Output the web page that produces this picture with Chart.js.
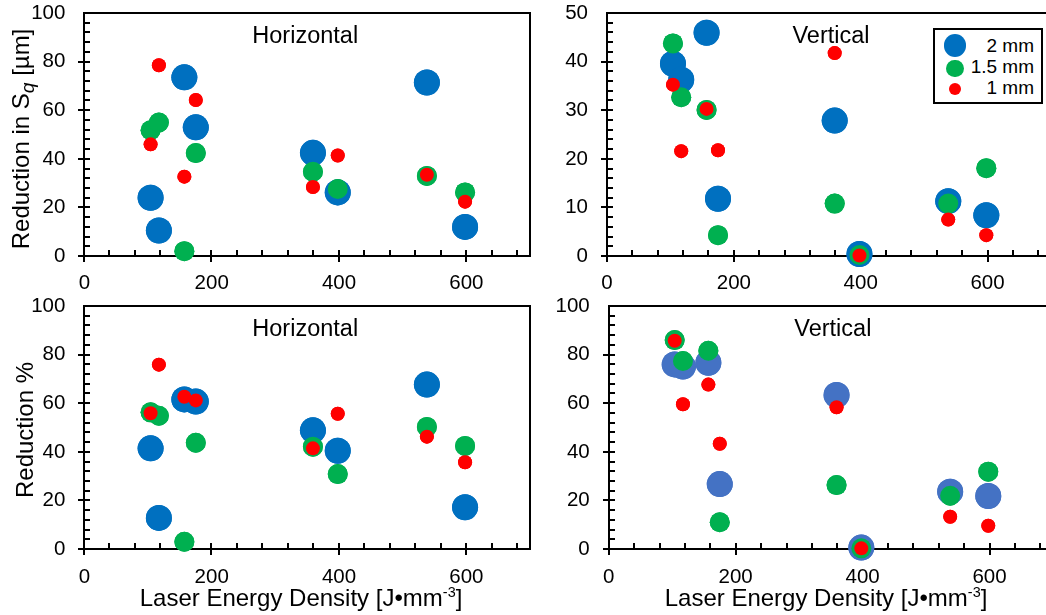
<!DOCTYPE html>
<html>
<head>
<meta charset="utf-8">
<script src="https://cdn.jsdelivr.net/npm/chart.js@4.4.0/dist/chart.umd.min.js"></script>
<style>
  html, body { margin: 0; padding: 0; overflow: hidden; background: #fff; }
  body { width: 1046px; height: 615px; position: relative; font-family: 'Liberation Sans', Arial, sans-serif; color: #000; }
  canvas { position: absolute; }
  .ytitle { position: absolute; white-space: nowrap; font-size: 24px; line-height: 24px; transform: translate(-50%, -50%) rotate(-90deg); }
  .xtitle { position: absolute; white-space: nowrap; font-size: 24px; line-height: 24px; transform: translateX(-50%); }
  sub { font-style: italic; font-size: 0.8em; vertical-align: -0.28em; line-height: 0; }
  sup { font-size: 0.6em; vertical-align: 0.6em; line-height: 0; }
  #legend { position: absolute; left: 933px; top: 28px; width: 106px; height: 72px; border: 2px solid #000; background: #fff; }
  #legend .row { position: absolute; left: 0; right: 7px; height: 21px; line-height: 21px; font-size: 19px; text-align: right; }
  #legend .dot { position: absolute; border-radius: 50%; }
</style>
</head>
<body>
<canvas id="tl" width="545" height="305" style="left:0;top:0"></canvas>
<canvas id="tr" width="560" height="305" style="left:520px;top:0"></canvas>
<canvas id="bl" width="545" height="335" style="left:0;top:280px"></canvas>
<canvas id="br" width="560" height="335" style="left:520px;top:280px"></canvas>

<div class="ytitle" style="left:20.5px;top:139px">Reduction in S<sub>q</sub> [µm]</div>
<div class="ytitle" style="left:25px;top:430px">Reduction %</div>
<div class="xtitle" style="left:301px;top:586px">Laser Energy Density [J•mm<sup>-3</sup>]</div>
<div class="xtitle" style="left:826px;top:586px">Laser Energy Density [J•mm<sup>-3</sup>]</div>
<div id="legend"></div>

<script>
// laser energy density of the 8 builds (J/mm3)
const energy = [104, 117, 157, 175, 359, 398, 538, 598];

// reduction in Sq (um), horizontal
const sqHoriz2mm = [24.0, 10.5, 73.6, 53.0, 42.5, 26.2, 71.5, 12.0];
const sqHoriz15mm = [51.8, 55.0, 2.0, 42.4, 34.7, 27.6, 33.0, 26.2];
const sqHoriz1mm = [46.0, 78.6, 32.7, 64.3, 28.4, 41.4, 33.5, 22.4];

// reduction in Sq (um), vertical
const sqVert2mm = [39.6, 36.3, 46.0, 11.8, 27.9, 0.4, 11.3, 8.4];
const sqVert15mm = [43.8, 32.7, 30.1, 4.3, 10.8, 0.2, 10.8, 18.1];
const sqVert1mm = [35.3, 21.6, 30.3, 21.8, 41.8, 0.1, 7.5, 4.3];

// reduction %, horizontal
const pctHoriz2mm = [41.5, 12.9, 61.6, 60.7, 48.9, 40.5, 67.7, 17.3];
const pctHoriz15mm = [56.3, 54.9, 3.1, 43.8, 42.2, 30.9, 50.3, 42.5];
const pctHoriz1mm = [55.9, 75.9, 62.7, 61.2, 41.5, 55.7, 46.3, 35.8];

// reduction %, vertical
const pctVert2mm = [76.0, 75.1, 76.7, 26.8, 63.4, 0.7, 23.7, 21.9];
const pctVert15mm = [86.0, 77.4, 81.6, 11.1, 26.4, 0.4, 22.0, 31.9];
const pctVert1mm = [85.7, 59.6, 67.7, 43.4, 58.4, 0.4, 13.4, 9.7];

const xTicks = [0, 200, 400, 600];
const seriesLabels = ['2 mm', '1.5 mm', '1 mm'];

const BLUE = '#0070C0';
const BLUE2 = '#4472C4';
const GREEN = '#00B050';
const RED = '#FF0000';

Chart.defaults.font.family = "'Liberation Sans', Arial, sans-serif";
Chart.defaults.color = '#000';

function points(ys) {
  return energy.map((x, i) => ({ x: x, y: ys[i] }));
}

function makeDatasets(blue, ys2, ys15, ys1) {
  const common = { pointBorderWidth: 0, pointHoverBorderWidth: 0, clip: false };
  return [
    { ...common, label: seriesLabels[0], data: points(ys2), backgroundColor: blue, pointRadius: 13, pointHoverRadius: 13, order: 3 },
    { ...common, label: seriesLabels[1], data: points(ys15), backgroundColor: GREEN, pointRadius: 10, pointHoverRadius: 10, order: 2 },
    { ...common, label: seriesLabels[2], data: points(ys1), backgroundColor: RED, pointRadius: 7, pointHoverRadius: 7, order: 1 }
  ];
}

function makeChart(id, p) {
  const canvas = document.getElementById(id);
  const W = canvas.width, H = canvas.height;
  const yMinor = p.yStep / 5;

  // box round the plot, major ticks across the axes, minor ticks inside
  const frameTicks = {
    id: 'frameTicks',
    afterDraw(chart) {
      const ctx = chart.ctx;
      const a = chart.chartArea;
      const L = Math.round(a.left), T = Math.round(a.top);
      const R = Math.round(a.right), B = Math.round(a.bottom);
      ctx.save();
      ctx.fillStyle = '#000';
      ctx.fillRect(L, T - 1, R - L + 1, 2);
      ctx.fillRect(R - 1, T - 1, 2, B - T + 2);
      for (let i = 0; i * 40 < 700; i++) {
        const px = Math.round(L + (R - L) * (i * 40) / 700);
        const major = i % 5 === 0;
        ctx.fillRect(px - 1, B - 6, 2, major ? 12 : 6);
      }
      for (let i = 0; i * yMinor < p.yMax; i++) {
        const py = Math.round(B - (B - T) * (i * yMinor) / p.yMax);
        const major = i % 5 === 0;
        ctx.fillRect(major ? L - 6 : L, py - 1, major ? 12 : 6, 2);
      }
      ctx.restore();
      // markers sit above the axes and ticks in the original
      const metas = chart.getSortedVisibleDatasetMetas();
      for (let i = metas.length - 1; i >= 0; i--) metas[i].controller.draw();
    }
  };

  const panelTitle = {
    id: 'panelTitle',
    afterDraw(chart) {
      const { ctx, chartArea: a } = chart;
      ctx.save();
      ctx.font = "23.5px 'Liberation Sans', Arial, sans-serif";
      ctx.fillStyle = '#000';
      ctx.textAlign = 'center';
      ctx.textBaseline = 'alphabetic';
      ctx.fillText(p.title, (a.left + a.right) / 2 + p.titleDx, a.top + 29.5);
      ctx.restore();
    }
  };

  return new Chart(canvas, {
    type: 'scatter',
    data: { datasets: makeDatasets(p.blue, p.ys[0], p.ys[1], p.ys[2]) },
    plugins: [frameTicks, panelTitle],
    options: {
      responsive: false,
      animation: false,
      events: [],
      layout: { autoPadding: false, padding: { left: 0, top: p.area.t, right: W - p.area.r, bottom: 0 } },
      plugins: {
        legend: { display: false },
        tooltip: { enabled: false }
      },
      scales: {
        x: {
          type: 'linear',
          min: 0,
          max: 700,
          afterBuildTicks: s => { s.ticks = xTicks.map(v => ({ value: v })); },
          afterFit: s => { s.height = H - p.area.b; s.paddingLeft = 0; s.paddingRight = 0; },
          border: { color: '#000', width: 2 },
          grid: { display: false },
          ticks: { font: { size: 20.5 }, padding: 7.5, maxRotation: 0 }
        },
        y: {
          type: 'linear',
          min: 0,
          max: p.yMax,
          ticks: { stepSize: p.yStep, font: { size: 20.5 }, padding: 11 },
          afterFit: s => { s.width = p.area.l; s.paddingTop = 0; s.paddingBottom = 0; },
          border: { color: '#000', width: 2 },
          grid: { display: false }
        }
      }
    }
  });
}

makeChart('tl', {
  area: { l: 84.4, t: 13.3, r: 530, b: 256 },
  yMax: 100, yStep: 20, title: 'Horizontal', titleDx: -2, blue: BLUE,
  ys: [sqHoriz2mm, sqHoriz15mm, sqHoriz1mm]
});
const trChart = makeChart('tr', {
  area: { l: 87, t: 13.3, r: 531, b: 256 },
  yMax: 50, yStep: 10, title: 'Vertical', titleDx: 2, blue: BLUE,
  ys: [sqVert2mm, sqVert15mm, sqVert1mm]
});
makeChart('bl', {
  area: { l: 84.4, t: 26, r: 530, b: 269.3 },
  yMax: 100, yStep: 20, title: 'Horizontal', titleDx: -2, blue: BLUE,
  ys: [pctHoriz2mm, pctHoriz15mm, pctHoriz1mm]
});
makeChart('br', {
  area: { l: 88.7, t: 26, r: 533, b: 269.3 },
  yMax: 100, yStep: 20, title: 'Vertical', titleDx: 2, blue: BLUE2,
  ys: [pctVert2mm, pctVert15mm, pctVert1mm]
});

// legend box, built from the top-right chart's datasets
const legend = document.getElementById('legend');
const dotCentres = [15.7, 38.3, 59.3];
trChart.data.datasets.forEach((ds, i) => {
  const r = ds.pointRadius * 0.88;
  const dot = document.createElement('div');
  dot.className = 'dot';
  dot.style.background = ds.backgroundColor;
  dot.style.width = dot.style.height = (2 * r) + 'px';
  dot.style.left = (20 - r) + 'px';
  dot.style.top = (dotCentres[i] - r) + 'px';
  legend.appendChild(dot);
  const row = document.createElement('div');
  row.className = 'row';
  row.style.top = (4.5 + i * 21.2) + 'px';
  row.textContent = ds.label;
  legend.appendChild(row);
});
</script>
</body>
</html>
